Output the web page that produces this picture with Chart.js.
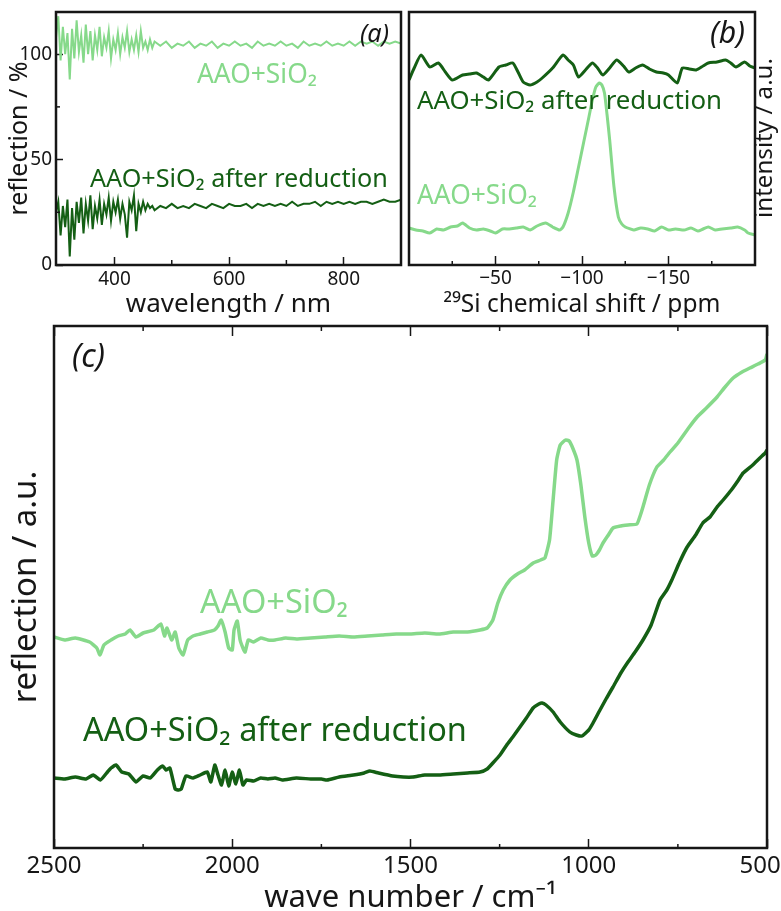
<!DOCTYPE html>
<html><head><meta charset="utf-8">
<script src="https://cdn.jsdelivr.net/npm/chart.js@4"></script>
<style>
html,body{margin:0;padding:0;background:#fff;}
body{width:781px;height:911px;position:relative;overflow:hidden;}
canvas{position:absolute;}
</style></head><body>
<canvas id="ca" width="404" height="320" style="left:0;top:0"></canvas>
<canvas id="cb" width="377" height="320" style="left:404px;top:0"></canvas>
<canvas id="cc" width="781" height="591" style="left:0;top:320px"></canvas>
<script>
// ---------- panel (a): UV-vis reflection ----------
const waveA = [298,302,306,310,314,318,322,326,330,334,338,342,346,350,354,358,362,366,370,374,378,382,386,390,394,398,402,406,410,414,418,422,426,430,434,438,442,446,450,454,458,462,466,470,
  480,490,500,510,520,530,540,550,560,570,580,590,600,610,620,630,640,650,660,670,680,690,700,710,720,730,740,750,760,770,780,790,800,810,820,830,840,850,860,870,880,890,900];
const reflA_SiO2 = [108,118,97,113,100,110,88,112,98,116,101,109,96,114,100,111,97,109,102,113,99,108,103,111,98,107,102,110,100,108,103,111,101,107,102,109,101,111,103,106,102,107,103,106,
  104,106,103,105,104,106,103,105,104,106,103,105,104,106,104,105,103,106,104,105,104,106,104,105,103,106,104,105,104,106,104,105,104,106,104,106,105,106,104,106,105,106,105];
const reflA_red = [25,30,14,28,18,31,4,27,12,30,20,32,15,29,21,33,17,28,22,31,19,29,24,32,21,30,25,31,22,29,24,13,30,26,33,16,29,25,30,26,29,27,28,26,
  28,27,29,27,28,27,29,28,27,29,28,27,29,28,28,29,27,29,28,29,28,29,28,30,28,29,29,30,28,30,29,30,29,30,29,30,30,29,30,31,30,30,31];
const aXMajor = [400,600,800], aXMinor = [500,700];
const aYMajor = [0,50,100], aYMinor = [25,75];

// ---------- panel (b): 29Si NMR ----------
const ppmB_red = [0,-3,-7,-12,-17,-21,-25,-31,-35,-39,-43,-46,-52,-56,-60,-63,-66,-70,-74,-77,-83,-89,-92,-95,-98,-102,-106,-109,-112,-116,-120,-124,-127,-131,-135,-139,-143,-147,-150,-155,-158,-162,-166,-170,-173,-178,-183,-186,-189,-194,-197,-200];
const intB_red = [185,197,210,198,202,193,185,190,191,192,188,185,198,200,202,193,183,180,183,187,197,210,205,200,188,195,202,197,190,197,205,199,193,197,200,196,193,192,190,182,197,196,195,199,202,203,205,202,198,203,199,197];
const ppmB_SiO2 = [0,-4,-8,-12,-16,-20,-24,-28,-31,-35,-39,-43,-47,-50,-54,-58,-62,-66,-70,-74,-79,-83,-87,-89,-92,-95,-98,-101,-104,-106,-108,-110,-111.5,-113,-114.5,-116,-118.5,-121,-123,-125,-128,-130,-134,-138,-142,-146,-150,-154,-159,-163,-167,-170,-173,-177,-181,-186,-190,-194,-196,-200];
const intB_SiO2 = [37,35,34,32,36,35,38,39,42,37,35,36,34,32,36,36,37,38,35,39,42,38,35,38,52,73,98,123,148,165,178,182,180,172,150,125,78,48,41,38,36,35,37,36,34,38,35,36,35,37,34,36,38,35,36,37,38,35,32,30];
const bXMajor = [-50,-100,-150], bXMinor = [-25,-75,-125,-175];

// ---------- panel (c): IR reflection ----------
const wnC_SiO2 = [2500,2470,2440,2400,2380,2371,2360,2340,2320,2300,2287,2270,2250,2220,2200,2190,2183,2170,2160,2150,2138,2125,2110,2090,2070,2050,2040,2031,2020,2010,2000,1995,1986,1978,1970,1964,1955,1940,1920,1900,1880,1850,1820,1780,1740,1700,1660,1620,1580,1540,1500,1460,1420,1380,1340,1305,1285,1269,1255,1240,1221,1200,1180,1156,1135,1123,1110,1100,1090,1080,1065,1055,1045,1033,1022,1011,1000,990,980,970,960,945,932,910,890,865,855,848,830,809,790,772,750,720,696,670,640,620,595,570,548,525,505,500];
const refC_SiO2 = [211,208,210,206,200,193,203,208,212,214,218,211,215,218,224,212,220,208,216,200,193,208,212,214,216,218,222,228,216,200,198,218,227,208,200,196,208,206,210,208,208,210,209,210,211,212,211,212,213,214,214,215,214,216,216,218,220,228,245,258,268,274,278,285,288,290,308,348,388,403,408,407,400,388,363,331,305,292,293,298,305,313,320,322,323,324,333,341,363,381,388,396,405,420,431,440,451,460,470,476,480,484,488,494];
const wnC_red = [2500,2470,2440,2410,2390,2370,2350,2340,2326,2310,2290,2270,2250,2230,2210,2195,2186,2175,2160,2150,2143,2130,2110,2090,2070,2060,2049,2040,2030,2020,2010,2000,1990,1980,1970,1960,1940,1920,1900,1880,1860,1820,1780,1750,1734,1700,1660,1630,1614,1590,1550,1520,1493,1460,1420,1380,1340,1305,1285,1269,1249,1230,1213,1193,1175,1156,1140,1131,1120,1100,1080,1053,1035,1019,1000,988,970,950,932,910,890,870,848,825,800,781,767,745,724,700,680,660,640,623,600,580,567,540,520,505,500];
const refC_red = [70,69,71,69,73,68,76,80,83,76,74,66,72,70,78,82,78,80,59,58,59,72,70,73,76,66,83,73,63,78,62,76,64,78,63,68,67,70,69,70,68,70,69,69,68,71,73,75,77,75,72,71,71,73,73,74,75,76,79,85,93,103,111,121,130,140,144,145,143,136,126,116,113,112,118,125,137,150,161,175,186,196,208,223,248,258,268,286,301,313,325,331,341,348,358,368,375,383,390,395,398];
const cXMajor = [2500,2000,1500,1000,500], cXMinor = [2250,1750,1250,750];

const FONT = "'Noto Sans', sans-serif";
const LIGHT = '#86d98a', DARK = '#145f14', INK = '#161616';
Chart.defaults.font.family = FONT;
Chart.defaults.color = INK;

const pts = (xs, ys) => xs.map((x, i) => ({x, y: ys[i]}));
const setTicks = vals => s => { s.ticks = vals.map(v => ({value: v})); };

const framePlugin = {
  id: 'frame',
  afterDatasetsDraw(chart) {
    const a = chart.chartArea, c = chart.ctx;
    c.save(); c.lineWidth = 2.5; c.strokeStyle = INK;
    c.strokeRect(a.left, a.top, a.right - a.left, a.bottom - a.top);
    c.restore();
  }
};
const minorPlugin = {
  id: 'minorTicks',
  afterDraw(chart, args, opts) {
    const c = chart.ctx, a = chart.chartArea;
    c.save(); c.strokeStyle = INK; c.lineWidth = 1.5;
    (opts.items || []).forEach(m => {
      const s = chart.scales[m.scale];
      m.values.forEach(v => {
        const p = s.getPixelForValue(v);
        c.beginPath();
        if (m.side === 'bottom') { c.moveTo(p, a.bottom); c.lineTo(p, a.bottom - m.len); }
        else if (m.side === 'top') { c.moveTo(p, a.top); c.lineTo(p, a.top + m.len); }
        else { c.moveTo(a.left, p); c.lineTo(a.left + m.len, p); }
        c.stroke();
      });
    });
    c.restore();
  }
};
// text notes: font size chosen so that the text spans width w; cy = cap-height centre
const notesPlugin = {
  id: 'notes',
  afterDraw(chart, args, opts) {
    const c = chart.ctx;
    (opts.items || []).forEach(n => {
      c.save();
      const style = n.italic ? 'italic ' : '';
      c.font = style + '100px ' + FONT;
      const size = 100 * n.w / c.measureText(n.text).width;
      c.font = style + size.toFixed(2) + 'px ' + FONT;
      c.fillStyle = n.color || INK;
      if (n.rotate) {
        c.textBaseline = 'middle'; c.textAlign = 'center';
        c.translate(n.x, n.cy); c.rotate(n.rotate);
        c.fillText(n.text, 0, 0);
      } else {
        c.textBaseline = 'alphabetic'; c.textAlign = 'left';
        c.fillText(n.text, n.x, n.cy + 0.357 * size);
      }
      c.restore();
    });
  }
};

const tickGrid = len => ({drawOnChartArea: false, drawTicks: true, tickLength: -len, tickWidth: 1.5, tickColor: INK});

// ---------- chart (a) ----------
new Chart(document.getElementById('ca'), {
  type: 'line',
  data: { datasets: [
    {data: pts(waveA, reflA_SiO2), borderColor: LIGHT, borderWidth: 2, pointRadius: 0, tension: 0},
    {data: pts(waveA, reflA_red), borderColor: DARK, borderWidth: 2, pointRadius: 0, tension: 0}
  ]},
  options: {
    responsive: false, animation: false, events: [],
    layout: {padding: {top: 12, right: 3, left: 0, bottom: 0}},
    plugins: {
      legend: {display: false}, tooltip: {enabled: false},
      minorTicks: {items: [{scale: 'x', values: aXMinor, len: 5, side: 'bottom'}, {scale: 'y', values: aYMinor, len: 4, side: 'left'}]},
      notes: {items: [
        {text: '(a)', x: 360, cy: 33, w: 29, italic: true},
        {text: 'AAO+SiO₂', x: 197, cy: 74, w: 120, color: LIGHT},
        {text: 'AAO+SiO₂ after reduction', x: 90, cy: 178, w: 298, color: DARK}
      ]}
    },
    scales: {
      x: {type: 'linear', min: 298, max: 900, afterBuildTicks: setTicks(aXMajor),
        ticks: {font: {size: 19}, padding: 11, maxRotation: 0, autoSkip: false},
        grid: tickGrid(8), border: {display: false},
        title: {display: true, text: 'wavelength / nm', font: {size: 26}, padding: {top: 0, bottom: 0}},
        afterFit: s => { s.height = 55; s.paddingLeft = 0; s.paddingRight = 0; }},
      y: {type: 'linear', min: 0, max: 120, afterBuildTicks: setTicks(aYMajor),
        ticks: {font: {size: 19}, padding: 11},
        grid: tickGrid(7), border: {display: false},
        title: {display: true, text: 'reflection / %', font: {size: 25}, padding: {top: 5, bottom: 0}},
        afterFit: s => { s.width = 56; s.paddingTop = 0; s.paddingBottom = 0; }}
    }
  },
  plugins: [framePlugin, minorPlugin, notesPlugin]
});

// ---------- chart (b) ----------
new Chart(document.getElementById('cb'), {
  type: 'line',
  data: { datasets: [
    {data: pts(ppmB_red, intB_red), borderColor: DARK, borderWidth: 3, pointRadius: 0, tension: 0.2},
    {data: pts(ppmB_SiO2, intB_SiO2), borderColor: LIGHT, borderWidth: 3, pointRadius: 0, tension: 0.2}
  ]},
  options: {
    responsive: false, animation: false, events: [],
    layout: {padding: {top: 12, right: 26, left: 5, bottom: 0}},
    plugins: {
      legend: {display: false}, tooltip: {enabled: false},
      minorTicks: {items: [{scale: 'x', values: bXMinor, len: 4, side: 'bottom'}]},
      notes: {items: [
        {text: '(b)', x: 306, cy: 32, w: 35, italic: true},
        {text: 'AAO+SiO₂ after reduction', x: 13, cy: 100, w: 305, color: DARK},
        {text: 'AAO+SiO₂', x: 13, cy: 195, w: 120, color: LIGHT},
        {text: 'intensity / a.u.', x: 361, cy: 138, w: 160, rotate: -Math.PI / 2}
      ]}
    },
    scales: {
      x: {type: 'linear', reverse: true, min: -200, max: 0, afterBuildTicks: setTicks(bXMajor),
        ticks: {font: {size: 19}, padding: 11, maxRotation: 0, autoSkip: false, callback: v => '\u2212' + Math.abs(v)},
        grid: tickGrid(9), border: {display: false},
        title: {display: true, text: '²⁹Si chemical shift / ppm', font: {size: 24.5}, padding: {top: 0, bottom: 0}},
        afterFit: s => { s.height = 55; s.paddingLeft = 0; s.paddingRight = 0; }},
      y: {type: 'linear', display: false, min: 0, max: 253}
    }
  },
  plugins: [framePlugin, minorPlugin, notesPlugin]
});

// ---------- chart (c) ----------
new Chart(document.getElementById('cc'), {
  type: 'line',
  data: { datasets: [
    {data: pts(wnC_SiO2, refC_SiO2), borderColor: LIGHT, borderWidth: 3.5, pointRadius: 0, tension: 0.15},
    {data: pts(wnC_red, refC_red), borderColor: DARK, borderWidth: 3.5, pointRadius: 0, tension: 0.15}
  ]},
  options: {
    responsive: false, animation: false, events: [],
    layout: {padding: {top: 6, right: 14, left: 0, bottom: 0}},
    plugins: {
      legend: {display: false}, tooltip: {enabled: false},
      minorTicks: {items: [{scale: 'x', values: cXMinor, len: 4, side: 'bottom'}, {scale: 'x', values: cXMinor, len: 5, side: 'top'}]},
      notes: {items: [
        {text: '(c)', x: 72, cy: 36, w: 33, italic: true},
        {text: 'AAO+SiO₂', x: 200, cy: 281, w: 148, color: LIGHT},
        {text: 'AAO+SiO₂ after reduction', x: 83, cy: 409, w: 384, color: DARK}
      ]}
    },
    scales: {
      x: {type: 'linear', reverse: true, min: 500, max: 2500, afterBuildTicks: setTicks(cXMajor),
        ticks: {font: {size: 24}, padding: 13, maxRotation: 0, autoSkip: false, callback: v => v === 500 ? '500\u2007' : String(v)},
        grid: tickGrid(9), border: {display: false},
        title: {display: true, text: 'wave number / cm⁻¹', font: {size: 31, lineHeight: 0.85}, padding: {top: 0, bottom: 0}},
        afterFit: s => { s.height = 63; s.paddingLeft = 0; s.paddingRight = 0; }},
      x2: {type: 'linear', position: 'top', reverse: true, min: 500, max: 2500, afterBuildTicks: setTicks(cXMajor),
        ticks: {display: false}, grid: tickGrid(10), border: {display: false},
        afterFit: s => { s.height = 0; s.paddingLeft = 0; s.paddingRight = 0; }},
      y: {type: 'linear', min: 0, max: 522,
        ticks: {display: false}, grid: {display: false}, border: {display: false},
        title: {display: true, text: 'reflection / a.u.', font: {size: 33}, padding: {top: 7, bottom: 0}},
        afterFit: s => { s.width = 54; s.paddingTop = 0; s.paddingBottom = 0; }}
    }
  },
  plugins: [framePlugin, minorPlugin, notesPlugin]
});
</script>
</body></html>
